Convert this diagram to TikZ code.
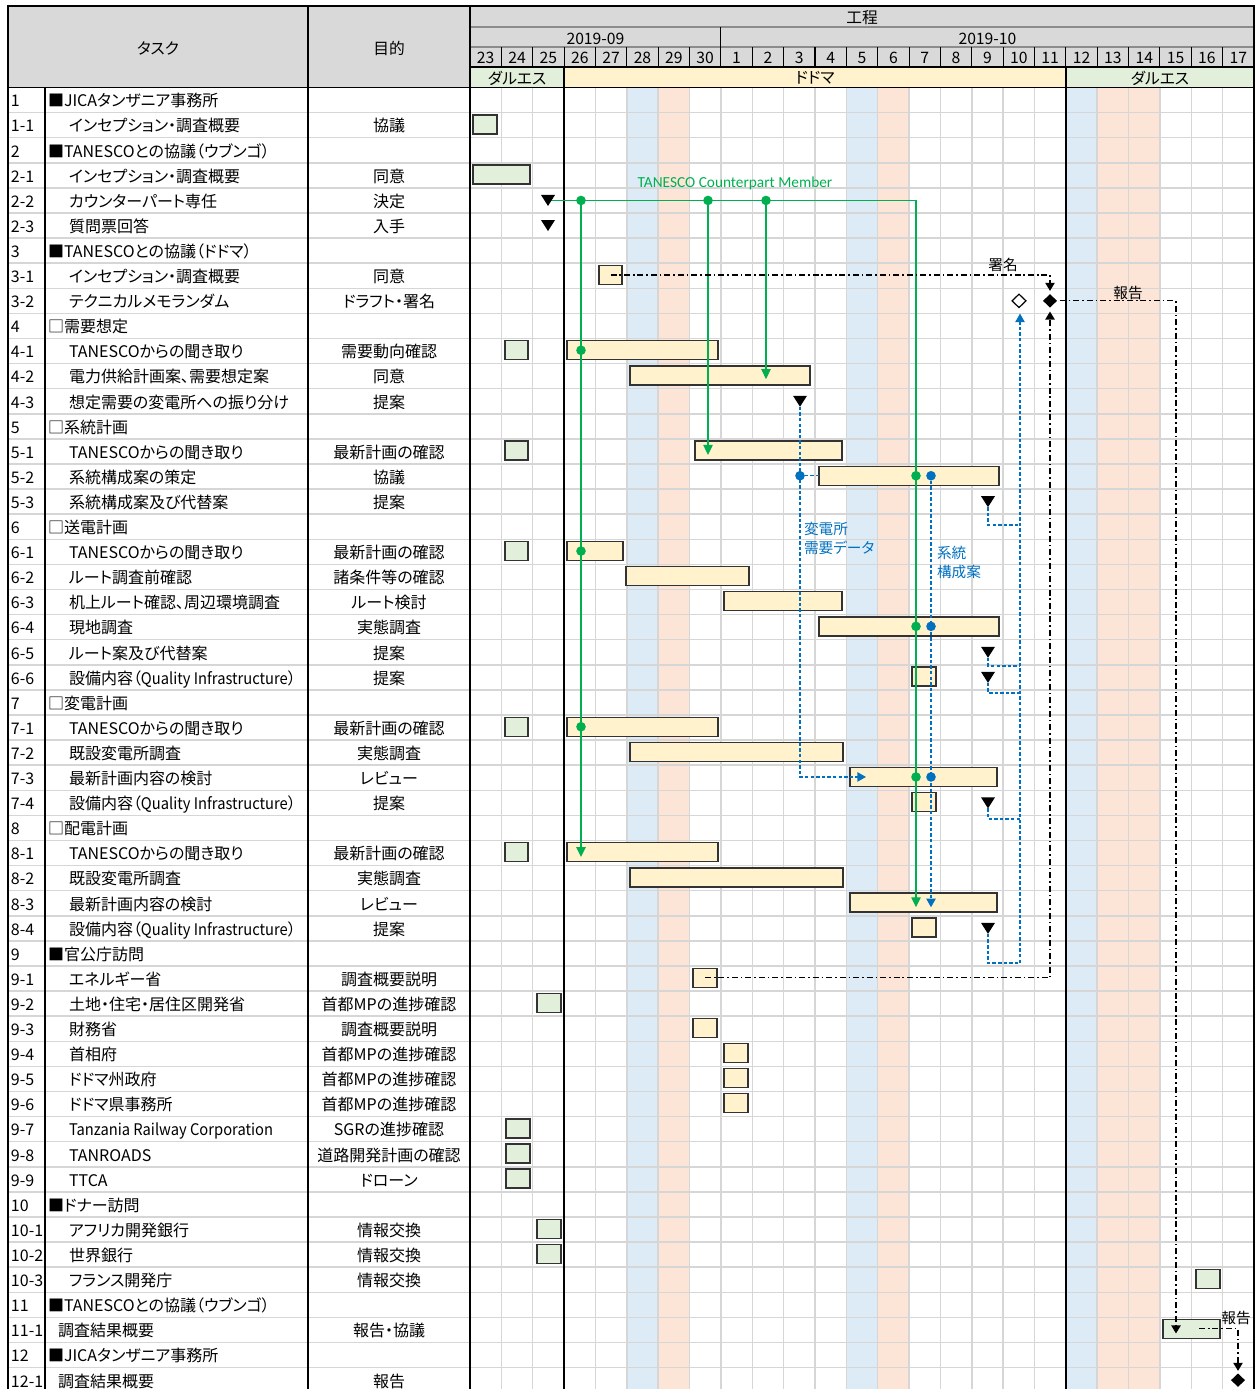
\documentclass[tikz,border=0pt]{standalone}
\usepackage{fontspec}
\setmainfont{Noto Sans CJK JP}[RawFeature=+palt]
\newfontfamily\notelatin{Carlito}
\usetikzlibrary{arrows.meta,shapes.geometric}

\definecolor{hdrgray}{HTML}{D9D9D9}
\definecolor{gridgray}{HTML}{D6D6D6}
\definecolor{darfill}{HTML}{E2EFDA}
\definecolor{dodfill}{HTML}{FFF2CC}
\definecolor{satblue}{HTML}{DDEBF7}
\definecolor{sunpeach}{HTML}{FCE4D6}
\definecolor{cpgreen}{HTML}{00B050}
\definecolor{flowblue}{HTML}{0070C0}
\definecolor{barline}{HTML}{333333}

\pgfdeclarelayer{marks}
\pgfsetlayers{main,marks}

% narrower setting for long Latin names
\newcommand\narrowlatin[1]{{\addfontfeature{FakeStretch=0.92}#1}}

% task bar: name, style, row, left px, right px
\newcommand\taskbar[5]{%
  \node[#2, minimum width={(#5-#4)*0.75pt}] (#1) at ({(#4+#5)/2},{ry(#3)-0.8}) {};}

\begin{document}
\begin{tikzpicture}[x=0.75pt,y=-0.75pt,
  declare function={ry(\k)=87.5+25.1*(\k+0.5); cx(\k)=470+31.36*\k;},
  every node/.style={inner sep=0pt, outer sep=0pt},
  cell/.style={font=\fontsize{12}{14}\selectfont, text height=9pt, text depth=2.5pt},
  hdr/.style={font=\fontsize{11.8}{13}\selectfont},
  darbox/.style={draw=barline, line width=1.1pt, fill=darfill, minimum height=14.25pt},
  dodbox/.style={draw=barline, line width=1.1pt, fill=dodfill, minimum height=14.25pt},
  milestone/.style={minimum width=10.5pt, minimum height=8.25pt,
    path picture={\fill[black] (path picture bounding box.north west) --
      (path picture bounding box.north east) -- (path picture bounding box.south) -- cycle;}},
  signmark/.style={diamond, fill=black, minimum width=10.5pt, minimum height=10pt},
  planmark/.style={diamond, draw=black, fill=white, line width=0.9pt, minimum width=10.5pt, minimum height=10pt},
  gdot/.style={circle, fill=cpgreen, minimum size=7.2pt},
  bdot/.style={circle, fill=flowblue, minimum size=7.2pt},
  gline/.style={draw=cpgreen, line width=1.1pt},
  bline/.style={draw=flowblue, line width=1.1pt, dash pattern=on 2.6pt off 1.6pt},
  kline/.style={draw=black, line width=0.9pt, dash pattern=on 4.5pt off 2.2pt on 1.2pt off 2.2pt},
  gtip/.tip={Triangle[width=7pt,length=7.5pt]},
  btip/.tip={Triangle[width=7pt,length=6.5pt]},
  ktip/.tip={Triangle[width=7pt,length=6pt]},
  bluelabel/.style={font=\fontsize{11}{12}\selectfont, text=flowblue, anchor=west},
  blacklabel/.style={font=\fontsize{11}{12}\selectfont},
]
\useasboundingbox (0,0) rectangle (1258,1389);

% ---------- header fills ----------
\fill[hdrgray] (8,6) rectangle (1254,67);
\fill[hdrgray] (8,67) rectangle (470,87.5);
\fill[darfill] (470,67) rectangle (564.1,87.5);
\fill[dodfill] (564.1,67) rectangle (1065.8,87.5);
\fill[darfill] (1065.8,67) rectangle (1254,87.5);

% ---------- weekend / holiday columns ----------
\foreach \k in {5,12,19} \fill[satblue] ({cx(\k)},87.5) rectangle ({cx(\k+1)},1389);
\foreach \k in {6,13,20,21} \fill[sunpeach] ({cx(\k)},87.5) rectangle ({cx(\k+1)},1389);

% ---------- grid ----------
\foreach \k in {1,...,51} \draw[gridgray, line width=1.1pt] (8,{87.5+25.1*\k}) -- (1254,{87.5+25.1*\k});
\foreach \k in {1,...,24} \draw[gridgray, line width=1.1pt] ({cx(\k)},87.5) -- ({cx(\k)},1389);

% ---------- header rules ----------
\draw[black!45, line width=0.8pt] (470,27) -- (1254,27);
\draw[black!45, line width=0.8pt] (470,47) -- (1254,47);
\draw[black, line width=0.8pt] ({cx(8)},27) -- ({cx(8)},47);
\foreach \k in {1,...,24} \draw[black, line width=0.8pt] ({cx(\k)},47) -- ({cx(\k)},67);
\draw[black, line width=1.3pt] (470,67) -- (1254,67);
\draw[black, line width=1.3pt] (8,87.5) -- (1254,87.5);
\draw[black, line width=1.6pt] ({cx(3)},67) -- ({cx(3)},1389);
\draw[black, line width=1.6pt] ({cx(19)},67) -- ({cx(19)},1389);
\draw[black, line width=1.1pt] (8,1389) -- (8,6) -- (1254,6) -- (1254,1389);
\draw[black, line width=1.1pt] (308,6) -- (308,1389);
\draw[black, line width=1.1pt] (470,6) -- (470,1389);
\draw[black, line width=0.8pt] (45,87.5) -- (45,1389);

% ---------- header texts ----------
\node[hdr] (hdtask) at (158,48) {タスク};
\node[hdr] (hdaim) at (389,48) {目的};
\node[hdr] (hdplan) at (862,18) {工程};
\node[hdr] (hdsep) at ({(cx(0)+cx(8))/2},39) {2019-09};
\node[hdr] (hdoct) at ({(cx(8)+cx(25))/2},39) {2019-10};
\foreach \d [count=\i from 0] in {23,24,25,26,27,28,29,30,1,2,3,4,5,6,7,8,9,10,11,12,13,14,15,16,17}
  \node[hdr] (day\i) at ({cx(\i)+15.68},58) {\d};
\node[hdr] (locdar1) at ({(cx(0)+cx(3))/2},78) {ダルエス};
\node[hdr] (locdod) at ({(cx(3)+cx(19))/2},78) {ドドマ};
\node[hdr] (locdar2) at ({(cx(19)+cx(25))/2},78) {ダルエス};

% ---------- task rows ----------
\foreach \r/\n/\ix/\t in {
0/1/48/■JICAタンザニア事務所,
1/1-1/69/インセプション・調査概要,
2/2/48/■TANESCOとの協議（ウブンゴ）,
3/2-1/69/インセプション・調査概要,
4/2-2/69/カウンターパート専任,
5/2-3/69/質問票回答,
6/3/48/■TANESCOとの協議（ドドマ）,
7/3-1/69/インセプション・調査概要,
8/3-2/69/テクニカルメモランダム,
9/4/48/□需要想定,
10/4-1/69/TANESCOからの聞き取り,
11/4-2/69/電力供給計画案、需要想定案,
12/4-3/69/想定需要の変電所への振り分け,
13/5/48/□系統計画,
14/5-1/69/TANESCOからの聞き取り,
15/5-2/69/系統構成案の策定,
16/5-3/69/系統構成案及び代替案,
17/6/48/□送電計画,
18/6-1/69/TANESCOからの聞き取り,
19/6-2/69/ルート調査前確認,
20/6-3/69/机上ルート確認、周辺環境調査,
21/6-4/69/現地調査,
22/6-5/69/ルート案及び代替案,
23/6-6/69/設備内容（\narrowlatin{Quality Infrastructure}）,
24/7/48/□変電計画,
25/7-1/69/TANESCOからの聞き取り,
26/7-2/69/既設変電所調査,
27/7-3/69/最新計画内容の検討,
28/7-4/69/設備内容（\narrowlatin{Quality Infrastructure}）,
29/8/48/□配電計画,
30/8-1/69/TANESCOからの聞き取り,
31/8-2/69/既設変電所調査,
32/8-3/69/最新計画内容の検討,
33/8-4/69/設備内容（\narrowlatin{Quality Infrastructure}）,
34/9/48/■官公庁訪問,
35/9-1/69/エネルギー省,
36/9-2/69/土地・住宅・居住区開発省,
37/9-3/69/財務省,
38/9-4/69/首相府,
39/9-5/69/ドドマ州政府,
40/9-6/69/ドドマ県事務所,
41/9-7/69/\narrowlatin{Tanzania Railway Corporation},
42/9-8/69/TANROADS,
43/9-9/69/TTCA,
44/10/48/■ドナー訪問,
45/10-1/69/アフリカ開発銀行,
46/10-2/69/世界銀行,
47/10-3/69/フランス開発庁,
48/11/48/■TANESCOとの協議（ウブンゴ）,
49/11-1/58/調査結果概要,
50/12/48/■JICAタンザニア事務所,
51/12-1/58/調査結果概要}{
  \node[cell, anchor=west] (num\r) at (11,{ry(\r)+2.5}) {\n};
  \node[cell, anchor=west] (task\r) at (\ix,{ry(\r)+2.5}) {\t};
}

\foreach \r/\p in {1/協議, 3/同意, 4/決定, 5/入手, 7/同意, 8/ドラフト・署名,
  10/需要動向確認, 11/同意, 12/提案, 14/最新計画の確認, 15/協議, 16/提案,
  18/最新計画の確認, 19/諸条件等の確認, 20/ルート検討, 21/実態調査, 22/提案, 23/提案,
  25/最新計画の確認, 26/実態調査, 27/レビュー, 28/提案,
  30/最新計画の確認, 31/実態調査, 32/レビュー, 33/提案,
  35/調査概要説明, 36/首都MPの進捗確認, 37/調査概要説明, 38/首都MPの進捗確認,
  39/首都MPの進捗確認, 40/首都MPの進捗確認, 41/SGRの進捗確認, 42/道路開発計画の確認,
  43/ドローン, 45/情報交換, 46/情報交換, 47/情報交換, 49/報告・協議, 51/報告}
  \node[cell] (aim\r) at (389,{ry(\r)+2.5}) {\p};

% ---------- task bars ----------
\taskbar{b11}{darbox}{1}{473}{497}
\taskbar{b21}{darbox}{3}{473}{530}
\taskbar{b31}{dodbox}{7}{599}{622}
\taskbar{b41g}{darbox}{10}{505}{528}
\taskbar{b41}{dodbox}{10}{567}{718}
\taskbar{b42}{dodbox}{11}{630}{810}
\taskbar{b51g}{darbox}{14}{505}{528}
\taskbar{b51}{dodbox}{14}{695}{842}
\taskbar{b52}{dodbox}{15}{819}{999}
\taskbar{b61g}{darbox}{18}{505}{528}
\taskbar{b61}{dodbox}{18}{567}{623}
\taskbar{b62}{dodbox}{19}{626}{749}
\taskbar{b63}{dodbox}{20}{724}{842}
\taskbar{b64}{dodbox}{21}{819}{999}
\taskbar{b66}{dodbox}{23}{912}{936}
\taskbar{b71g}{darbox}{25}{505}{528}
\taskbar{b71}{dodbox}{25}{567}{718}
\taskbar{b72}{dodbox}{26}{630}{843}
\taskbar{b73}{dodbox}{27}{850}{997}
\taskbar{b74}{dodbox}{28}{912}{936}
\taskbar{b81g}{darbox}{30}{505}{528}
\taskbar{b81}{dodbox}{30}{567}{718}
\taskbar{b82}{dodbox}{31}{630}{843}
\taskbar{b83}{dodbox}{32}{850}{997}
\taskbar{b84}{dodbox}{33}{912}{936}
\taskbar{b91}{dodbox}{35}{693}{717}
\taskbar{b92}{darbox}{36}{537}{561}
\taskbar{b93}{dodbox}{37}{693}{717}
\taskbar{b94}{dodbox}{38}{724}{748}
\taskbar{b95}{dodbox}{39}{724}{748}
\taskbar{b96}{dodbox}{40}{724}{748}
\taskbar{b97}{darbox}{41}{506}{530}
\taskbar{b98}{darbox}{42}{506}{530}
\taskbar{b99}{darbox}{43}{506}{530}
\taskbar{b101}{darbox}{45}{537}{561}
\taskbar{b102}{darbox}{46}{537}{561}
\taskbar{b103}{darbox}{47}{1196}{1220}
\taskbar{b111}{darbox}{49}{1163}{1220}

% ---------- milestones, diamonds and junction dots (drawn above the lines) ----------
\begin{pgfonlayer}{marks}
\node[milestone] (t22) at (548,{ry(4)}) {};
\node[milestone] (t23) at (548,{ry(5)}) {};
\node[milestone] (t43) at (800,{ry(12)}) {};
\node[milestone] (t53) at (988,{ry(16)}) {};
\node[milestone] (t65) at (988,{ry(22)}) {};
\node[milestone] (t66) at (988,{ry(23)}) {};
\node[milestone] (t74) at (988,{ry(28)}) {};
\node[milestone] (t84) at (988,{ry(33)}) {};
\node[planmark] (dplan) at (1019,{ry(8)}) {};
\node[signmark] (dsign) at (1050,{ry(8)}) {};
\node[signmark] (dfinal) at (1238,{ry(51)}) {};
% counterpart member split points
\node[gdot] (gs1) at (581,{ry(4)}) {};
\node[gdot] (gs2) at (708,{ry(4)}) {};
\node[gdot] (gs3) at (766,{ry(4)}) {};
\node[gdot] (gd41) at (581,{ry(10)-0.8}) {};
\node[gdot] (gd61) at (581,{ry(18)-0.8}) {};
\node[gdot] (gd71) at (581,{ry(25)-0.8}) {};
\node[gdot] (gd52) at (916,{ry(15)-0.8}) {};
\node[gdot] (gd64) at (916,{ry(21)-0.8}) {};
\node[gdot] (gd73) at (916,{ry(27)-0.8}) {};
% data hand-over points
\node[bdot] (bs1) at (800,{ry(15)-0.8}) {};
\node[bdot] (bs2) at (931,{ry(15)-0.8}) {};
\node[bdot] (bd64) at (931,{ry(21)-0.8}) {};
\node[bdot] (bd73) at (931,{ry(27)-0.8}) {};
\end{pgfonlayer}

% ---------- counterpart member lines ----------
\coordinate (gturn) at (916,{ry(4)});
\coordinate (g42) at (766,{ry(11)+3});
\coordinate (g51) at (708,{ry(14)+3.5});
\coordinate (g81) at (581,{ry(30)+4});
\coordinate (g83) at (916,{ry(32)+4});
\draw[gline] (t22.center) -- (gturn);
\draw[gline,-{gtip}] (gturn) -- (g83);
\draw[gline,-{gtip}] (gs1) -- (g81);
\draw[gline,-{gtip}] (gs2) -- (g51);
\draw[gline,-{gtip}] (gs3) -- (g42);

% ---------- data flow lines ----------
\coordinate (b73in) at (866,{ry(27)-0.8});
\coordinate (b83in) at (931,{ry(32)+4});
\draw[bline,-{btip}] (t43.south) |- (b73in);
\draw[bline] (bs1) -- (b52.west);
\draw[bline,-{btip}] (bs2) -- (b83in);
\coordinate (j53) at (1020,525);
\coordinate (j65) at (1020,666);
\coordinate (j66) at (1020,693);
\coordinate (j74) at (1020,819);
\coordinate (j84) at (1020,963);
\draw[bline] (t53.south) |- (j53);
\draw[bline] (t65.south) |- (j65);
\draw[bline] (t66.south) |- (j66);
\draw[bline] (t74.south) |- (j74);
\draw[bline] (t84.south) |- (j84);
\draw[bline,-{btip},shorten >=4.5pt] (j84) -- (j84 |- dplan.south);

% ---------- signing and reporting lines ----------
\coordinate (k111) at (1176,{ry(49)+3.5});
\coordinate (k111s) at (1199,{ry(49)-1.5});
\draw[kline,-{ktip},shorten >=2.5pt] (b31.center) -| (dsign.north);
\draw[kline,-{ktip},shorten >=3pt] (b91.center) -| (dsign.south);
\draw[kline,-{ktip},shorten <=2pt] (dsign.east) -| (k111);
\draw[kline,-{ktip},shorten >=2pt] (k111s) -| (dfinal.north);

% ---------- labels ----------
\node[font=\notelatin\fontsize{11.5}{13}\selectfont, text=cpgreen] (lblcp) at (735,183) {TANESCO Counterpart Member};
\node[bluelabel] (lblsub1) at (804,529) {変電所};
\node[bluelabel] (lblsub2) at (804,548) {需要データ};
\node[bluelabel] (lblsys1) at (937,553) {系統};
\node[bluelabel] (lblsys2) at (937,572) {構成案};
\node[blacklabel] (lblsign) at (1003,265) {署名};
\node[blacklabel] (lblrep1) at (1128,293) {報告};
\node[blacklabel] (lblrep2) at (1236,1318) {報告};
\end{tikzpicture}
\end{document}
